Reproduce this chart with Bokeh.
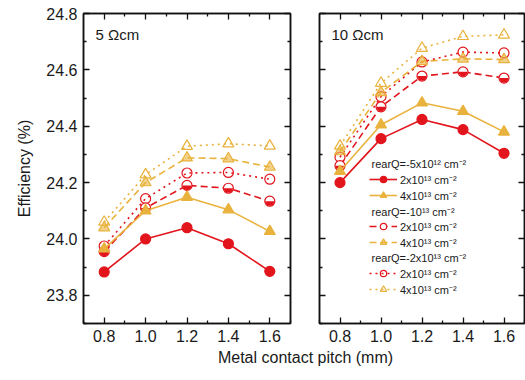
import numpy as np
from bokeh.plotting import figure
from bokeh.layouts import column, row
from bokeh.models import (Range1d, FixedTicker, PrintfTickFormatter, LinearAxis, Label,
                          Legend, LegendItem, CustomJSTickFormatter)
from bokeh.embed import file_html
from bokeh.resources import INLINE

pitch = [0.8, 1.0, 1.2, 1.4, 1.6]
x_ticks = [0.8, 1.0, 1.2, 1.4, 1.6]
y_ticks = [23.8, 24.0, 24.2, 24.4, 24.6, 24.8]

# 5 Ohm cm panel
left_q5_2 = [23.883, 24.00, 24.04, 23.983, 23.885]
left_q5_4 = [23.965, 24.10, 24.148, 24.104, 24.027]
left_q10_2 = [23.955, 24.11, 24.19, 24.18, 24.134]
left_q10_4 = [24.04, 24.20, 24.288, 24.285, 24.255]
left_q20_2 = [23.975, 24.143, 24.234, 24.236, 24.212]
left_q20_4 = [24.06, 24.228, 24.329, 24.338, 24.33]

# 10 Ohm cm panel
right_q5_2 = [24.20, 24.356, 24.424, 24.388, 24.304]
right_q5_4 = [24.24, 24.405, 24.483, 24.453, 24.38]
right_q10_2 = [24.26, 24.469, 24.578, 24.593, 24.571]
right_q10_4 = [24.31, 24.52, 24.63, 24.639, 24.637]
right_q20_2 = [24.29, 24.505, 24.628, 24.663, 24.66]
right_q20_4 = [24.33, 24.553, 24.677, 24.719, 24.724]

panel_titles = ["5 \u03a9cm", "10 \u03a9cm"]
header_labels = ["rearQ=-5x10\u00b9\u00b2 cm\u207b\u00b2",
                 "rearQ=-10\u00b9\u00b3 cm\u207b\u00b2",
                 "rearQ=-2x10\u00b9\u00b3 cm\u207b\u00b2"]
item_labels = ["2x10\u00b9\u00b3 cm\u207b\u00b2", "4x10\u00b9\u00b3 cm\u207b\u00b2"]

RED = "#e2141c"
ORANGE = "#e9b23c"
FONT = "Liberation Sans"
TXT = "#1a1a1a"


def style(p, show_ylabels):
    p.x_range = Range1d(0.7, 1.7)
    p.y_range = Range1d(23.7, 24.8)
    p.outline_line_color = "#111111"
    p.outline_line_width = 1.5
    p.grid.visible = False
    p.background_fill_color = "white"
    p.border_fill_color = "white"
    p.min_border_top = 13

    xa = p.xaxis[0]
    xa.ticker = FixedTicker(ticks=x_ticks, minor_ticks=[0.7, 0.9, 1.1, 1.3, 1.5, 1.7])
    xa.formatter = PrintfTickFormatter(format="%.1f")
    ya = p.yaxis[0]
    ya.ticker = FixedTicker(ticks=y_ticks, minor_ticks=[23.7, 23.9, 24.1, 24.3, 24.5, 24.7])
    ya.formatter = PrintfTickFormatter(format="%.1f")

    extra_top = LinearAxis(ticker=FixedTicker(ticks=x_ticks, minor_ticks=[0.9, 1.1, 1.3, 1.5]))
    extra_right = LinearAxis(ticker=FixedTicker(ticks=y_ticks, minor_ticks=[23.9, 24.1, 24.3, 24.5, 24.7]))
    p.add_layout(extra_top, "above")
    p.add_layout(extra_right, "right")

    for ax in [xa, ya, extra_top, extra_right]:
        ax.axis_line_color = "#111111"
        ax.axis_line_width = 1.5
        ax.major_tick_in = 6
        ax.major_tick_out = 0
        ax.minor_tick_in = 3
        ax.minor_tick_out = 0
        ax.major_tick_line_color = "#111111"
        ax.minor_tick_line_color = "#111111"
        ax.major_tick_line_width = 1.3
        ax.minor_tick_line_width = 1.3
        ax.major_label_text_font = FONT
        ax.major_label_text_font_size = "16px"
        ax.major_label_text_color = TXT
        ax.major_label_standoff = 6
    for ax in [extra_top, extra_right]:
        ax.formatter = CustomJSTickFormatter(code="return ''")
        ax.major_label_standoff = 0
        ax.major_label_text_font_size = "0px"
    if not show_ylabels:
        ya.formatter = CustomJSTickFormatter(code="return ''")
        ya.major_label_standoff = 0
        ya.major_label_text_font_size = "0px"


def draw_series(p, vals, color, dash, marker, kind):
    r_line = p.line(pitch, vals, line_color=color, line_width=1.6, line_dash=dash)
    if kind == "filled":
        r_m = p.scatter(pitch, vals, marker=marker, size=10 if marker == "circle" else 11,
                        fill_color=color, line_color=color, line_width=1.2)
    elif kind == "half":
        if marker == "circle":
            r_m = p.scatter(pitch, vals, marker="circle", size=10, fill_color="white",
                            line_color=color, line_width=1.2)
            p.wedge(pitch, vals, radius=4.6, radius_units="screen", start_angle=np.pi,
                    end_angle=2 * np.pi, fill_color=color, line_color=None)
        else:
            r_m = p.scatter(pitch, vals, marker="triangle", size=11, fill_color=color,
                            fill_alpha=0.6, line_color=color, line_width=1.2)
    else:
        r_m = p.scatter(pitch, vals, marker=marker, size=10 if marker == "circle" else 11,
                        fill_color="white", fill_alpha=0.0, line_color=color, line_width=1.2)
    return [r_line, r_m]


def make_panel(series, title, width, bl, br, show_ylabels):
    p = figure(width=width, height=347, output_backend="svg", toolbar_location=None,
               min_border_left=bl, min_border_right=br, min_border_bottom=24)
    style(p, show_ylabels)
    q5_2, q5_4, q10_2, q10_4, q20_2, q20_4 = series
    rends = {}
    rends["q20_4"] = draw_series(p, q20_4, ORANGE, "2 4", "triangle", "open")
    rends["q20_2"] = draw_series(p, q20_2, RED, "2 4", "circle", "open")
    rends["q10_4"] = draw_series(p, q10_4, ORANGE, "7 4", "triangle", "half")
    rends["q10_2"] = draw_series(p, q10_2, RED, "7 4", "circle", "half")
    rends["q5_4"] = draw_series(p, q5_4, ORANGE, "solid", "triangle", "filled")
    rends["q5_2"] = draw_series(p, q5_2, RED, "solid", "circle", "filled")
    p.add_layout(Label(x=12, y=289, x_units="screen", y_units="screen", text=title,
                       text_font=FONT, text_font_size="15px", text_color=TXT,
                       text_baseline="middle"))
    return p, rends


p1, r1 = make_panel([left_q5_2, left_q5_4, left_q10_2, left_q10_4, left_q20_2, left_q20_4],
                    panel_titles[0], 304, 83, 14, True)
p1.yaxis[0].axis_label = "Efficiency (%)"
p1.yaxis[0].axis_label_text_font = FONT
p1.yaxis[0].axis_label_text_font_size = "16px"
p1.yaxis[0].axis_label_text_font_style = "normal"
p1.yaxis[0].axis_label_text_color = TXT
p1.yaxis[0].axis_label_standoff = 10

p2, r2 = make_panel([right_q5_2, right_q5_4, right_q10_2, right_q10_4, right_q20_2, right_q20_4],
                    panel_titles[1], 221, 15, 1, False)

groups = [("q5_2", "q5_4"), ("q10_2", "q10_4"), ("q20_2", "q20_4")]
legend_y = [120, 73, 26]
header_y = [160, 112, 66]
for gi, (a, b) in enumerate(groups):
    lg = Legend(items=[LegendItem(label=item_labels[0], renderers=r2[a]),
                       LegendItem(label=item_labels[1], renderers=r2[b])],
                location=(50, legend_y[gi]), padding=0, margin=0, spacing=0,
                border_line_color=None, background_fill_alpha=0.0,
                glyph_width=28, glyph_height=16, label_height=16, label_standoff=3,
                label_text_font=FONT, label_text_font_size="11px", label_text_color=TXT)
    p2.add_layout(lg)
    p2.add_layout(Label(x=52, y=header_y[gi], x_units="screen", y_units="screen",
                        text=header_labels[gi], text_font=FONT, text_font_size="11px",
                        text_color=TXT, text_baseline="middle"))

p3 = figure(width=525, height=33, output_backend="svg", toolbar_location=None,
            min_border=0, x_range=Range1d(0, 1), y_range=Range1d(0, 1))
p3.axis.visible = False
p3.grid.visible = False
p3.outline_line_color = None
p3.add_layout(Label(x=305, y=23, x_units="screen", y_units="screen",
                    text="Metal contact pitch (mm)", text_font=FONT, text_font_size="16px",
                    text_color=TXT, text_align="center", text_baseline="middle"))

layout = column(row(p1, p2), p3)
open("out.html", "w").write(file_html(layout, INLINE))
